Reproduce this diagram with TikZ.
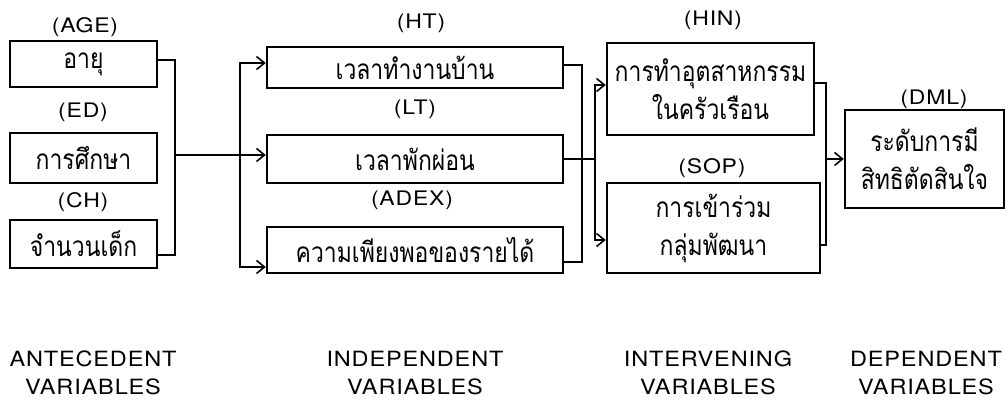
\documentclass[tikz,border=0pt]{standalone}
\usepackage{fontspec}
\setmainfont{TeX Gyre Heros}
\newfontfamily\thaifont[Script=Thai,FakeStretch=0.82]{Loma}
\newfontfamily\capsfont[FakeStretch=1.12,LetterSpace=4]{TeX Gyre Heros}
\newfontfamily\tagfont[FakeStretch=1.15,LetterSpace=4]{TeX Gyre Heros}
\usetikzlibrary{arrows.meta}
\begin{document}
\begin{tikzpicture}[x=1pt,y=-1pt,
  box/.style={draw,line width=2.4pt,inner sep=0pt,align=center,
    font=\thaifont\fontsize{28}{38}\selectfont},
  tag/.style={inner sep=0pt,font=\tagfont\fontsize{20}{24}\selectfont},
  cat/.style={inner sep=0pt,align=center,font=\capsfont\fontsize{21}{28}\selectfont},
  conn/.style={line width=1.6pt},
  arr/.style={conn,-{Straight Barb[length=8pt,width=13pt,line width=1.6pt]}}]
\useasboundingbox (0,0) rectangle (1005,401);

% antecedent
\node[box,minimum width=147pt,minimum height=46pt] (age) at (83.5,64) {อายุ};
\node[box,minimum width=147pt,minimum height=50pt] (ed) at (83.5,158) {การศึกษา};
\node[box,minimum width=147pt,minimum height=48pt] (ch) at (83.5,244) {จำนวนเด็ก};
\node[tag] (tage) at (85,27) {(AGE)};
\node[tag] (ted) at (83,112) {(ED)};
\node[tag] (tch) at (83,202) {(CH)};

% independent
\node[box,minimum width=296pt,minimum height=41pt] (ht) at (415,67.5) {เวลาทำงานบ้าน};
\node[box,minimum width=296pt,minimum height=48pt] (lt) at (415,159) {เวลาพักผ่อน};
\node[box,minimum width=296pt,minimum height=46pt] (adex) at (415,250) {ความเพียงพอของรายได้};
\node[tag] (tht) at (421,23) {(HT)};
\node[tag] (tlt) at (415,109) {(LT)};
\node[tag] (tadex) at (412,200) {(ADEX)};

% intervening
\node[box,minimum width=207pt,minimum height=92pt] (hin) at (710.5,89) {การทำอุตสาหกรรม\\ในครัวเรือน};
\node[box,minimum width=213pt,minimum height=90pt] (sop) at (713.5,228) {การเข้าร่วม\\กลุ่มพัฒนา};
\node[tag] (thin) at (713,20) {(HIN)};
\node[tag] (tsop) at (712,168) {(SOP)};

% dependent
\node[box,minimum width=159pt,minimum height=98pt] (dml) at (924.5,159) {ระดับการมี\\สิทธิตัดสินใจ};
\node[tag] (tdml) at (934,99) {(DML)};

% category labels
\node[cat] (cante) at (93,373) {ANTECEDENT\\VARIABLES};
\node[cat] (cinde) at (415,373) {INDEPENDENT\\VARIABLES};
\node[cat] (cinte) at (708,373) {INTERVENING\\VARIABLES};
\node[cat] (cdep) at (926,373) {DEPENDENT\\VARIABLES};

% connectors: antecedent -> independent
\coordinate (jA) at (175,155);
\coordinate (jB) at (240,155);
\draw[conn] ([yshift=4pt]age.east) -| (jA);
\draw[conn] ([yshift=-11pt]ch.east) -| (jA);
\draw[conn] (jA) -- (jB);
\draw[arr] (jB) |- ([yshift=4.5pt]ht.west);
\draw[arr] (jB) -- (jB -| lt.west);
\draw[arr] (jB) |- ([yshift=-17pt]adex.west);

% independent -> intervening
\coordinate (jC) at (582,159);
\coordinate (jD) at (595,159);
\draw[conn] ([yshift=2.5pt]ht.east) -| (jC);
\draw[conn] (lt.east) -- (jC);
\draw[conn] ([yshift=-12pt]adex.east) -| (jC);
\draw[conn] (jC) -- (jD);
\draw[arr] (jD) |- ([yshift=4pt]hin.west);
\draw[arr] (jD) |- ([yshift=-12pt]sop.west);

% intervening -> dependent
\coordinate (jE) at (826,159);
\draw[conn] ([yshift=6pt]hin.east) -| (jE);
\draw[conn] ([yshift=-17pt]sop.east) -| (jE);
\draw[arr] (jE) -- (dml.west);
\end{tikzpicture}
\end{document}
